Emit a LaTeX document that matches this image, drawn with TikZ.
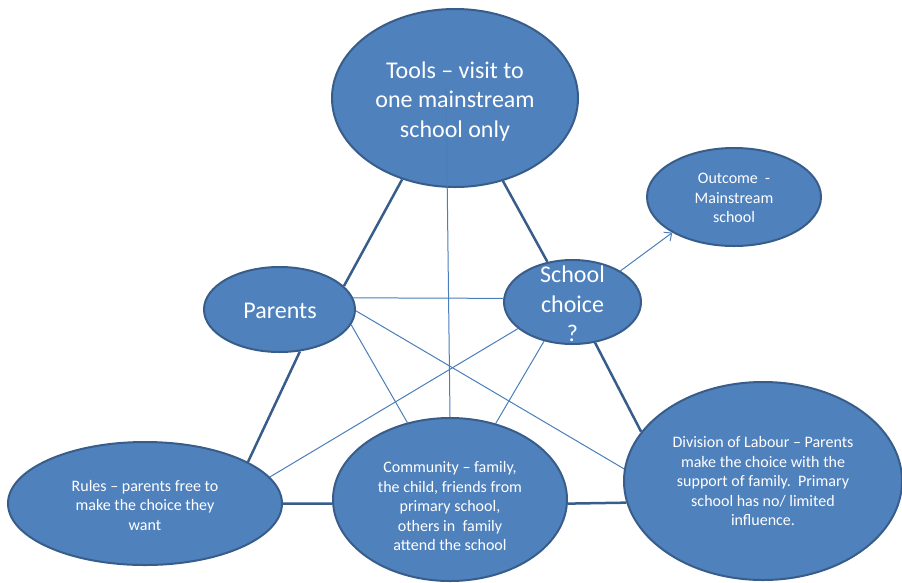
\documentclass[tikz,border=0pt]{standalone}
\usepackage{fontspec}
\setmainfont{Carlito}
\usetikzlibrary{shapes.geometric,arrows.meta,backgrounds}
\definecolor{fillb}{HTML}{4F81BD}
\definecolor{edgeb}{HTML}{385D8A}
\definecolor{thinb}{HTML}{4A7EBB}
\begin{document}
\begin{tikzpicture}[x=1pt,y=-1pt,
  ell/.style={ellipse,draw=edgeb,fill=fillb,line width=2pt,inner sep=0pt},
  big/.style={text=white,align=center,inner sep=0pt,font=\fontsize{24}{29.5}\selectfont},
  small/.style={text=white,align=center,inner sep=0pt,font=\fontsize{16}{19.5}\selectfont},
  thickline/.style={draw=edgeb,line width=2.5pt},
  thinline/.style={draw=thinb,line width=1pt}]
\useasboundingbox (0,0) rectangle (902,582);
% ellipses
\node[ell,minimum width=246pt,minimum height=178pt] (tools) at (455,98) {};
\node[ell,minimum width=174pt,minimum height=98pt] (out) at (734,197) {};
\node[ell,minimum width=137pt,minimum height=84pt] (sc) at (572.5,302) {};
\node[ell,minimum width=151pt,minimum height=85pt] (par) at (279.5,309.5) {};
\node[ell,minimum width=274pt,minimum height=123pt] (rules) at (145,503.5) {};
\node[ell,minimum width=234pt,minimum height=163pt] (comm) at (450,499.5) {};
\node[ell,minimum width=278pt,minimum height=198pt] (div) at (763,481) {};
% connectors behind ellipses
\begin{scope}[on background layer]
  \draw[thickline] (tools.-123) -- (par.20.5);
  \draw[thickline] (tools.-60.6) -- (sc.122.5);
  \draw[thickline] (par.-64.2) -- (rules.22.3);
  \draw[thickline] (sc.-61.2) -- (div.158);
  \draw[thickline] (rules.0) -- (comm.182);
  \draw[thickline] (comm.358) -- (div.189);
  \draw[thinline] (par.9) -- (sc.177);
  \draw[thinline] (par.-12) -- (comm.119.8);
  \draw[thinline] (par.-1) -- (div.175);
  \draw[thinline] (sc.-154.9) -- (rules.12.4);
  \draw[thinline] (sc.-126.4) -- (comm.59.5);
\end{scope}
% vertical line from inside the Tools ellipse
\coordinate (tv) at (446,86);
\draw[thinline] (tv) -- (comm.north);
% arrow to outcome
\draw[thinline,-{Straight Barb[length=6pt,width=11pt]}] (sc.33) -- (out.-150.6);
% texts
\node[big] (toolsT) at (455,101.5) {Tools – visit to\\one mainstream\\school only};
\node[small] (outT) at (734,198) {Outcome\ \ -\\Mainstream\\school};
\node[big] (scT) at (572.5,304) {School\\choice\\?};
\node[big] (parT) at (280,311) {Parents};
\node[small] (rulesT) at (145,505) {Rules – parents free to\\make the choice they\\want};
\node[small] (commT) at (450,506) {Community – family,\\the child, friends from\\primary school,\\others in\ \ family\\attend the school};
\node[small] (divT) at (763,481) {Division of Labour – Parents\\make the choice with the\\support of family.\ \ Primary\\school has no/ limited\\influence.};
\end{tikzpicture}
\end{document}
